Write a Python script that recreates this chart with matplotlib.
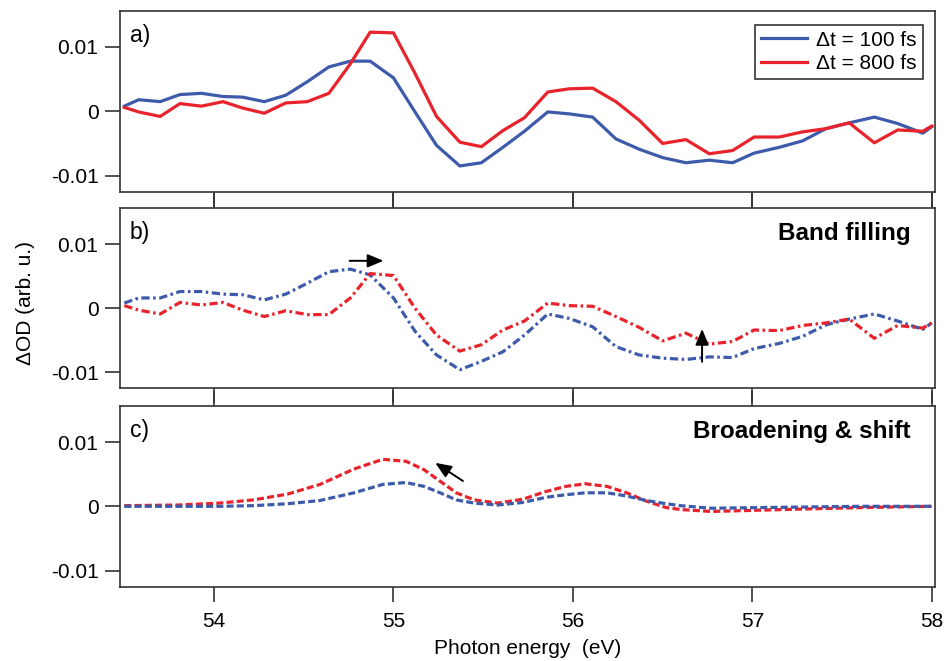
import matplotlib
matplotlib.use("Agg")
import matplotlib.pyplot as plt

plt.rcParams["font.family"] = ["Liberation Sans", "DejaVu Sans"]

# photon energy grid of the measured spectra (eV)
energy = [53.50, 53.58, 53.70, 53.81, 53.93, 54.05, 54.16, 54.28, 54.40, 54.52,
          54.64, 54.76, 54.87, 55.00, 55.12, 55.24, 55.37, 55.49, 55.61, 55.73,
          55.86, 55.98, 56.11, 56.24, 56.37, 56.50, 56.63, 56.76, 56.89, 57.01,
          57.15, 57.28, 57.41, 57.54, 57.68, 57.81, 57.95, 58.00]

# a) measured difference spectra
meas_100 = [0.0008, 0.0018, 0.0015, 0.0026, 0.0028, 0.0023, 0.0022, 0.0015, 0.0025, 0.0046,
            0.0069, 0.0078, 0.0078, 0.0052, -0.0001, -0.0053, -0.0085, -0.0080, -0.0056, -0.0031,
            -0.0001, -0.0004, -0.0009, -0.0043, -0.0059, -0.0072, -0.0080, -0.0076, -0.0080, -0.0065,
            -0.0056, -0.0046, -0.0027, -0.0018, -0.0009, -0.0019, -0.0034, -0.0024]
meas_800 = [0.0006, -0.0001, -0.0008, 0.0012, 0.0008, 0.0015, 0.0005, -0.0003, 0.0013, 0.0015,
            0.0028, 0.0074, 0.0123, 0.0122, 0.0059, -0.0008, -0.0048, -0.0055, -0.0030, -0.0010,
            0.0030, 0.0035, 0.0036, 0.0015, -0.0014, -0.0050, -0.0044, -0.0066, -0.0061, -0.0040,
            -0.0040, -0.0032, -0.0027, -0.0018, -0.0049, -0.0029, -0.0031, -0.0023]

# b) band filling model
band_100 = [0.0008, 0.0016, 0.0016, 0.0026, 0.0026, 0.0022, 0.0021, 0.0013, 0.0022, 0.0039,
            0.0057, 0.0061, 0.0052, 0.0016, -0.0036, -0.0073, -0.0096, -0.0083, -0.0068, -0.0042,
            -0.0009, -0.0016, -0.0029, -0.0060, -0.0073, -0.0078, -0.0080, -0.0076, -0.0077, -0.0063,
            -0.0055, -0.0044, -0.0026, -0.0017, -0.0009, -0.0020, -0.0033, -0.0023]
band_800 = [0.0004, -0.0003, -0.0009, 0.0009, 0.0005, 0.0009, -0.0003, -0.0013, -0.0004, -0.0010,
            -0.0010, 0.0016, 0.0054, 0.0051, 0.0000, -0.0042, -0.0067, -0.0057, -0.0034, -0.0020,
            0.0008, 0.0004, 0.0003, -0.0013, -0.0030, -0.0051, -0.0039, -0.0056, -0.0052, -0.0034,
            -0.0035, -0.0027, -0.0023, -0.0017, -0.0047, -0.0027, -0.0031, -0.0023]

# c) broadening & shift model
energy_c = [53.50, 53.80, 54.03, 54.22, 54.41, 54.59, 54.78, 54.94, 55.07, 55.17,
            55.26, 55.35, 55.45, 55.58, 55.72, 55.85, 55.96, 56.07, 56.19, 56.30,
            56.41, 56.52, 56.60, 56.77, 57.04, 57.32, 57.60, 58.00]
broad_100 = [0.0000, 0.0000, 0.0000, 0.0001, 0.0004, 0.0009, 0.0021, 0.0034, 0.0037, 0.0031,
             0.0021, 0.0010, 0.0005, 0.0002, 0.0006, 0.0014, 0.0018, 0.0021, 0.0021, 0.0016,
             0.0009, 0.0004, 0.0001, -0.0003, -0.0002, -0.0001, 0.0000, 0.0000]
broad_800 = [0.0001, 0.0002, 0.0005, 0.0010, 0.0019, 0.0034, 0.0058, 0.0073, 0.0070, 0.0057,
             0.0039, 0.0021, 0.0010, 0.0005, 0.0011, 0.0023, 0.0031, 0.0035, 0.0031, 0.0021,
             0.0008, -0.0002, -0.0005, -0.0008, -0.0006, -0.0004, -0.0002, 0.0000]

labels = ["\u0394t = 100 fs", "\u0394t = 800 fs"]
blue = "#3D5BAA"
red = "#E8232B"
fs = 15

fig = plt.figure(figsize=(9.45, 6.61), dpi=100)
ax_a = fig.add_axes([0.127, 0.710, 0.8624, 0.2734])
ax_b = fig.add_axes([0.127, 0.4126, 0.8624, 0.2723])
ax_c = fig.add_axes([0.127, 0.1124, 0.8624, 0.2734])

ax_a.plot(energy, meas_100, color=blue, lw=2.3, label=labels[0])
ax_a.plot(energy, meas_800, color=red, lw=2.3, label=labels[1])

dashdot = (2.6, 1.1, 0.8, 1.1)
ax_b.plot(energy, band_100, color=blue, lw=2.3, dashes=dashdot)
ax_b.plot(energy, band_800, color=red, lw=2.3, dashes=dashdot)

ax_c.plot(energy_c, broad_800, color=red, lw=2.3, dashes=(2.2, 1.0))
ax_c.plot(energy_c, broad_100, color=blue, lw=2.3, dashes=(2.2, 1.0))

for ax, tag in zip([ax_a, ax_b, ax_c], ["a)", "b)", "c)"]):
    ax.set_xlim(53.476, 58.018)
    ax.set_ylim(-0.0125, 0.0156)
    ax.set_yticks([-0.01, 0, 0.01], labels=["-0.01", "0", "0.01"])
    ax.set_xticks([54, 55, 56, 57, 58])
    ax.tick_params(direction="out", length=11, width=1.2, color="#333333",
                   labelsize=fs, pad=4.5)
    for sp in ax.spines.values():
        sp.set_linewidth(1.2)
        sp.set_color("#333333")
    ax.text(0.012, 0.93, tag, transform=ax.transAxes, fontsize=16.5, va="top", ha="left")

ax_a.tick_params(axis="x", labelbottom=False)
ax_b.tick_params(axis="x", top=True, labelbottom=False)
ax_c.tick_params(axis="x", top=True, pad=7)

leg = ax_a.legend(loc="upper right", bbox_to_anchor=(0.985, 0.925), fontsize=fs,
                  frameon=True, fancybox=False, edgecolor="black", handlelength=2.2,
                  handletextpad=0.45, borderpad=0.3, labelspacing=0.2, borderaxespad=0)
leg.get_frame().set_linewidth(1.2)

ax_b.text(0.97, 0.86, "Band filling", transform=ax_b.transAxes, fontsize=17.5,
          fontweight="bold", ha="right", va="center")
ax_c.text(0.97, 0.86, "Broadening & shift", transform=ax_c.transAxes, fontsize=17.5,
          fontweight="bold", ha="right", va="center")

arrow = dict(arrowstyle="-|>,head_length=0.6,head_width=0.25", color="black", lw=1.4,
             mutation_scale=16)
ax_b.annotate("", xy=(54.96, 0.0074), xytext=(54.74, 0.0074), arrowprops=arrow)
ax_b.annotate("", xy=(56.72, -0.0028), xytext=(56.72, -0.0088), arrowprops=arrow)
ax_c.annotate("", xy=(55.22, 0.0070), xytext=(55.40, 0.0037), arrowprops=arrow)

fig.text(0.027, 0.542, "\u0394OD (arb. u.)", rotation=90, fontsize=fs, ha="center", va="center")
ax_c.set_xlabel("Photon energy  (eV)", fontsize=fs, labelpad=6)

fig.savefig("out.png", dpi=100)
